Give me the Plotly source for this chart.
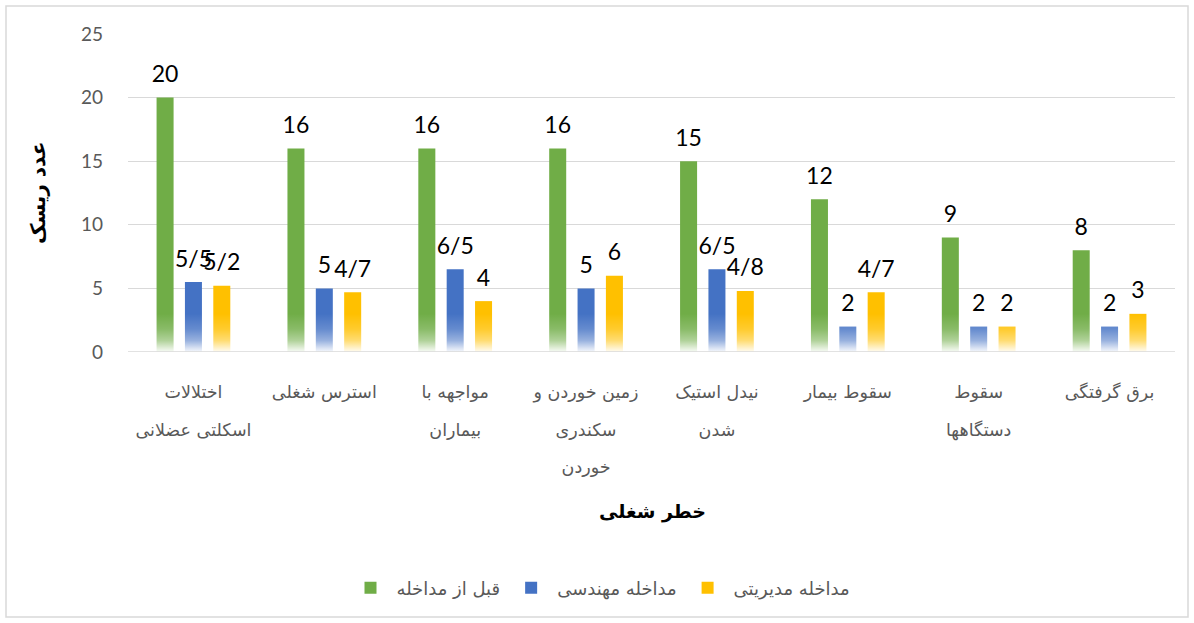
import base64
import plotly.graph_objects as go

# ---------------- data ----------------
categories = [
    "اختلالات اسکلتی عضلانی",
    "استرس شغلی",
    "مواجهه با بیماران",
    "زمین خوردن و سکندری خوردن",
    "نیدل استیک شدن",
    "سقوط بیمار",
    "سقوط دستگاهها",
    "برق گرفتگی",
]
tick_lines = [
    ["اختلالات", "اسکلتی عضلانی"],
    ["استرس شغلی"],
    ["مواجهه با", "بیماران"],
    ["زمین خوردن و", "سکندری", "خوردن"],
    ["نیدل استیک", "شدن"],
    ["سقوط بیمار"],
    ["سقوط", "دستگاهها"],
    ["برق گرفتگی"],
]
series_names = ["قبل از مداخله", "مداخله مهندسی", "مداخله مدیریتی"]
before = [20, 16, 16, 16, 15, 12, 9, 8]
engineering = [5.5, 5, 6.5, 5, 6.5, 2, 2, 2]
management = [5.2, 4.7, 4, 6, 4.8, 4.7, 2, 3]
y_ticks = [0, 5, 10, 15, 20, 25]
y_title = "عدد ریسک"
x_title = "خطر شغلی"

colors = ["#70AD47", "#4472C4", "#FFC000"]
series_values = [before, engineering, management]


def fa_num(v):
    return f"{v:g}".replace(".", "/")


GRAY = "#595959"
GRID = "#D9D9D9"
FA_FONT = "DejaVu Sans"
NUM_FONT = "Lato"
BARGAP = 0.35

fig = go.Figure()
for name, vals, col in zip(series_names, series_values, colors):
    fig.add_trace(go.Bar(
        x=categories, y=vals, name=name,
        marker=dict(color=col, line=dict(width=0)),
        hoverinfo="skip",
    ))

# data labels (scatter grouped like the bars)
for name, vals in zip(series_names, series_values):
    fig.add_trace(go.Scatter(
        x=categories, y=vals, mode="markers+text",
        text=[fa_num(v) for v in vals], textposition="top center",
        textfont=dict(family=NUM_FONT, size=23, color="#000000"),
        marker=dict(size=14, opacity=0),
        showlegend=False, hoverinfo="skip", cliponaxis=False,
    ))

# white gradient fading the bottom of the bars
svg = (
    "<svg xmlns='http://www.w3.org/2000/svg' width='10' height='100' preserveAspectRatio='none'>"
    "<defs><linearGradient id='g' x1='0' y1='0' x2='0' y2='1'>"
    "<stop offset='0' stop-color='white' stop-opacity='0'/>"
    "<stop offset='0.4' stop-color='white' stop-opacity='0.18'/>"
    "<stop offset='0.7' stop-color='white' stop-opacity='0.45'/>"
    "<stop offset='0.9' stop-color='white' stop-opacity='0.8'/>"
    "<stop offset='1' stop-color='white' stop-opacity='0.95'/>"
    "</linearGradient></defs>"
    "<rect width='10' height='100' fill='url(#g)'/></svg>"
)
src = "data:image/svg+xml;base64," + base64.b64encode(svg.encode()).decode()

ticktext = [
    "<br>".join(f"<span style='font-size:17.5px'>{ln}</span>" for ln in lines)
    for lines in tick_lines
]

W, H = 1194, 623
ml, mr, mt, mb = 128, 19, 34, 271
pw, ph = W - ml - mr, H - mt - mb


def px_x(p):
    return (p - ml) / pw


def px_y(p):
    return (H - mb - p) / ph


fig.update_layout(
    width=W, height=H,
    margin=dict(l=ml, r=mr, t=mt, b=mb, autoexpand=False),
    paper_bgcolor="white", plot_bgcolor="white",
    barmode="group", bargap=BARGAP, bargroupgap=0.4,
    scattermode="group", scattergap=BARGAP,
    showlegend=True,
    legend=dict(
        orientation="h", x=px_x(600), y=px_y(588),
        xanchor="center", yanchor="middle",
        font=dict(family=FA_FONT, size=18, color=GRAY),
        traceorder="normal", itemwidth=42,
    ),
    images=[dict(
        source=src, xref="paper", yref="y", x=0, y=3.0,
        sizex=1, sizey=3.0, sizing="stretch",
        xanchor="left", yanchor="top", layer="above",
    )],
    shapes=[
        dict(type="rect", xref="paper", yref="paper",
             x0=px_x(6), x1=px_x(1188), y0=px_y(617), y1=px_y(6),
             line=dict(color=GRID, width=1.5), fillcolor="rgba(0,0,0,0)",
             layer="below"),
        dict(type="line", xref="paper", yref="y", x0=0, x1=1, y0=0, y1=0,
             line=dict(color=GRID, width=1.3), layer="above"),
    ],
    annotations=[
        dict(text=f"<b>{x_title}</b>", xref="paper", yref="paper",
             x=px_x(652), y=px_y(512), xanchor="center", yanchor="middle",
             showarrow=False, font=dict(family=FA_FONT, size=19, color="#000000")),
        dict(text=f"<b>{y_title}</b>", xref="paper", yref="paper",
             x=px_x(38), y=px_y(193), xanchor="center", yanchor="middle",
             textangle=-90, showarrow=False,
             font=dict(family=FA_FONT, size=20, color="#000000")),
    ],
)

fig.update_xaxes(
    categoryorder="array", categoryarray=categories,
    tickmode="array", tickvals=categories, ticktext=ticktext,
    tickfont=dict(family=FA_FONT, size=29, color=GRAY),
    showgrid=False, showline=False, zeroline=False, ticks="",
    ticklabelstandoff=16,
)
fig.update_yaxes(
    range=[0, 25], tickvals=y_ticks,
    tickfont=dict(family=NUM_FONT, size=19, color=GRAY),
    showgrid=True, gridcolor=GRID, gridwidth=1.3,
    zeroline=False, showline=False, ticks="",
    ticklabelstandoff=24,
)

fig.write_html(
    "out.html",
    config={"displayModeBar": False},
    post_script="document.body.style.margin='0';document.body.style.overflow='hidden';",
)
